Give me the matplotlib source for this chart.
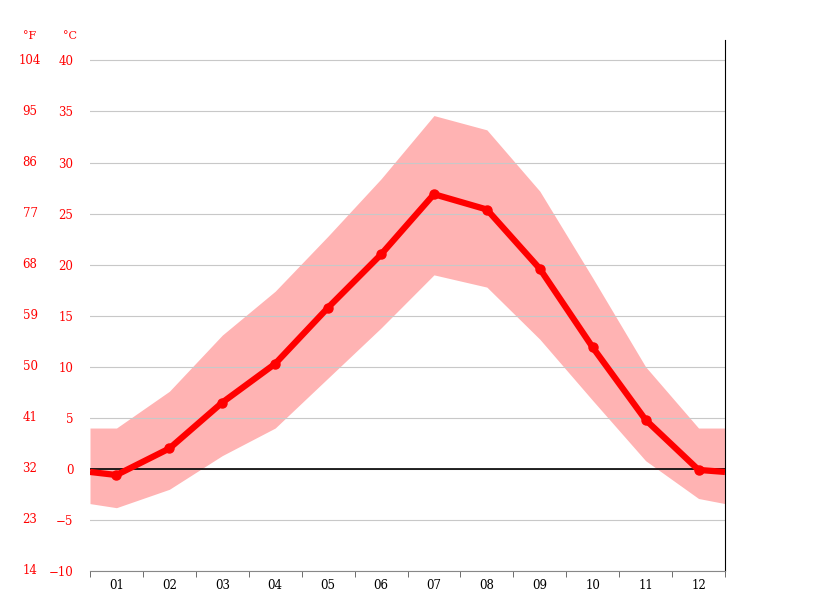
import matplotlib.pyplot as plt
import matplotlib.transforms as mtransforms
import numpy as np

months = ["01", "02", "03", "04", "05", "06", "07", "08", "09", "10", "11", "12"]
# band/line positions incl. chart edges at 0.5 and 12.5
pos = [0.5, 1, 2, 3, 4, 5, 6, 7, 8, 9, 10, 11, 12, 12.5]
mean_t = [-0.3, -0.6, 2.0, 6.5, 10.3, 15.8, 21.0, 26.9, 25.4, 19.6, 11.9, 4.8, -0.1, -0.3]
max_t = [4.0, 4.0, 7.6, 13.1, 17.4, 22.8, 28.4, 34.6, 33.2, 27.2, 18.7, 10.0, 4.0, 4.0]
min_t = [-3.4, -3.8, -2.0, 1.3, 4.0, 8.9, 13.8, 19.0, 17.8, 12.7, 6.7, 0.8, -2.9, -3.4]
c_ticks = [-10, -5, 0, 5, 10, 15, 20, 25, 30, 35, 40]
f_ticks = [14, 23, 32, 41, 50, 59, 68, 77, 86, 95, 104]

plt.rcParams['font.family'] = 'DejaVu Serif'
fig = plt.figure(figsize=(8.15, 6.11), dpi=100)
ax = fig.add_axes([90/815, 1-571/611, 635/815, 531/611])

ax.fill_between(pos, min_t, max_t, color='#ffb3b3', lw=0, zorder=1)
ax.plot(pos, mean_t, color='#ff0000', lw=4.5, zorder=3, solid_capstyle='butt')
ax.plot(pos[1:-1], mean_t[1:-1], 'o', color='#ff0000', ms=6.5, zorder=4)
ax.axhline(0, color='black', lw=1.2, zorder=2)

ax.set_xlim(0.5, 12.5)
ax.set_ylim(-10, 42)
ax.set_yticks(c_ticks)
ax.set_yticklabels([str(c).replace('-', '−') for c in c_ticks], color='#ff0000', fontsize=8.5)
ax.yaxis.grid(True, color='#c8c8c8', lw=0.8, zorder=0)
ax.tick_params(axis='y', length=0, pad=12)
ax.set_xticks(range(1, 13))
ax.set_xticklabels(months, fontsize=8.5)
ax.set_xticks(np.arange(0.5, 13, 1), minor=True)
ax.tick_params(axis='x', which='major', length=0, pad=6)
ax.tick_params(axis='x', which='minor', length=4, color='#555555')
for s in ['top', 'left']:
    ax.spines[s].set_visible(False)
ax.spines['bottom'].set_color('#888888')
ax.spines['bottom'].set_linewidth(0.8)
ax.spines['right'].set_color('black')

tr = mtransforms.blended_transform_factory(fig.transFigure, ax.transData)
for f, c in zip(f_ticks, c_ticks):
    fig.text(30/815, c, str(f), transform=tr, color='#ff0000', fontsize=8.5,
             ha='center', va='center')
fig.text(30/815, 1-36/611, "°F", color='#ff0000', fontsize=8, ha='center', va='center')
fig.text(70/815, 1-36/611, "°C", color='#ff0000', fontsize=8, ha='center', va='center')

fig.savefig("out.png", dpi=100)
